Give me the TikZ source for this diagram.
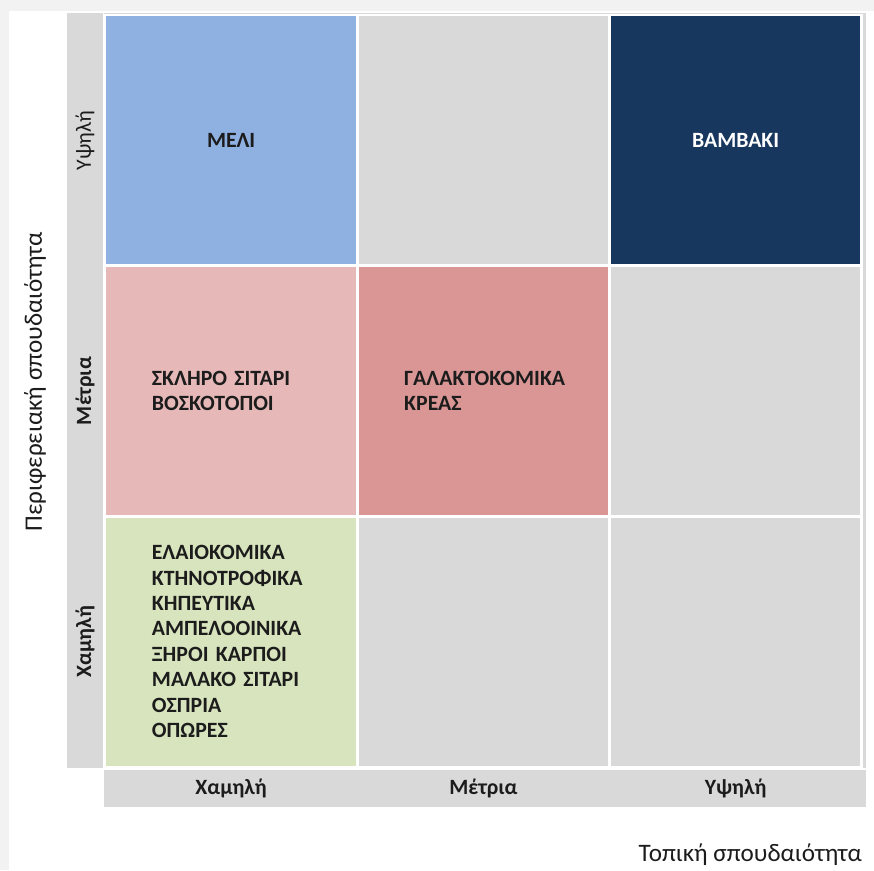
\documentclass[tikz,border=0pt]{standalone}
\usepackage{fontspec}
\setmainfont{Carlito}
\usetikzlibrary{positioning}

\definecolor{gridGray}{HTML}{D9D9D9}
\definecolor{frameGray}{HTML}{F2F2F2}
\definecolor{meliBlue}{HTML}{8EB1E2}
\definecolor{navy}{HTML}{17375E}
\definecolor{roseLight}{HTML}{E6B9B8}
\definecolor{roseDark}{HTML}{D99695}
\definecolor{oliveLight}{HTML}{D7E4BD}
\definecolor{ink}{HTML}{1C1C1C}

\begin{document}
\begin{tikzpicture}[
  x=0.02cm, y=-0.02cm,
  font=\fontsize{12.4}{14.5}\selectfont,
  node distance=0pt
]
% -------------------- Styles --------------------
\tikzset{
  cell/.style={
    draw=white, line width=1.6pt, outer sep=0pt, inner sep=0pt,
    minimum width=5.046cm, minimum height=5.014cm,
    font=\fontsize{12.4}{14.5}\selectfont\bfseries, text=ink
  },
  listCell/.style={
    cell, align=left, inner xsep=0.94cm, text width=3.166cm
  },
  bar/.style={fill=gridGray, draw=none},
  rowLabel/.style={rotate=90, font=\fontsize{12.4}{14}\selectfont\bfseries, text=ink},
  colLabel/.style={font=\fontsize{12.4}{14}\selectfont\bfseries, text=ink},
  axisTitle/.style={font=\fontsize{14.3}{17}\selectfont, text=ink}
}

% -------------------- Page frame --------------------
\fill[frameGray] (0,0) rectangle (874,870);
\fill[white] (9,11) rectangle (874,870);
\useasboundingbox (0,0) rectangle (874,870);

% -------------------- Grey strips --------------------
\fill[bar] (67,13) rectangle (102.5,768);
\fill[bar] (104,13) rectangle (866,768);
\fill[bar] (104,769.5) rectangle (866,807);

% -------------------- Grid cells --------------------
\node[cell, fill=meliBlue, anchor=north west] (c11) at (105,15) {ΜΕΛΙ};
\node[cell, fill=gridGray, right=of c11] (c12) {};
\node[cell, fill=navy, text=white, right=of c12] (c13) {ΒΑΜΒΑΚΙ};

\node[listCell, fill=roseLight, below=of c11] (c21) {
  ΣΚΛΗΡΟ ΣΙΤΑΡΙ\\
  ΒΟΣΚΟΤΟΠΟΙ
};
\node[listCell, fill=roseDark, right=of c21] (c22) {
  ΓΑΛΑΚΤΟΚΟΜΙΚΑ\\
  ΚΡΕΑΣ
};
\node[cell, fill=gridGray, right=of c22] (c23) {};

\node[listCell, fill=oliveLight, below=of c21] (c31) {
  ΕΛΑΙΟΚΟΜΙΚΑ\\
  ΚΤΗΝΟΤΡΟΦΙΚΑ\\
  ΚΗΠΕΥΤΙΚΑ\\
  ΑΜΠΕΛΟΟΙΝΙΚΑ\\
  ΞΗΡΟΙ ΚΑΡΠΟΙ\\
  ΜΑΛΑΚΟ ΣΙΤΑΡΙ\\
  ΟΣΠΡΙΑ\\
  ΟΠΩΡΕΣ
};
\node[cell, fill=gridGray, right=of c31] (c32) {};
\node[cell, fill=gridGray, right=of c32] (c33) {};

% -------------------- Axis labels --------------------
\node[rowLabel, font=\fontsize{12.4}{14}\selectfont] (rHigh) at (85,0 |- c11.center) {Υψηλή};
\node[rowLabel] (rMid) at (85,0 |- c21.center) {Μέτρια};
\node[rowLabel] (rLow) at (85,0 |- c31.center) {Χαμηλή};

\node[colLabel] (cLow) at (c31.center |- 0,788) {Χαμηλή};
\node[colLabel] (cMid) at (c32.center |- 0,788) {Μέτρια};
\node[colLabel] (cHigh) at (c33.center |- 0,788) {Υψηλή};

\node[axisTitle, rotate=90] (yTitle) at (35,382) {Περιφερειακή σπουδαιότητα};
\node[axisTitle, anchor=east] (xTitle) at (868,855) {Τοπική σπουδαιότητα};

\end{tikzpicture}
\end{document}
